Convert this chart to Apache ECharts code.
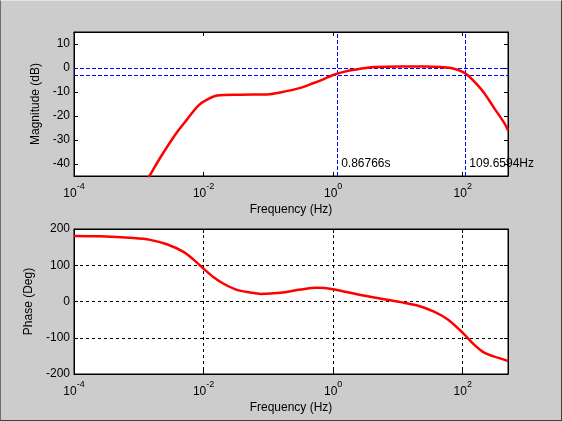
<!DOCTYPE html>
<html>
<head>
<meta charset="utf-8">
<script src="https://cdn.jsdelivr.net/npm/echarts@6/dist/echarts.min.js"></script>
<style>
  html, body { margin: 0; padding: 0; background: #cccccc; }
  #chart { width: 562px; height: 421px; }
  #frame {
    position: absolute; left: 0; top: 0; width: 562px; height: 421px;
    box-sizing: border-box; pointer-events: none;
    border-left: 1px solid #6e6e6e; border-top: 1px solid #e4e4e4;
    border-right: 1px solid #404040; border-bottom: 1px solid #404040;
  }
</style>
</head>
<body>
<div id="chart"></div>
<div id="frame"></div>
<script>
// magnitude response
const magFreq = [0.0012, 0.00146, 0.00214, 0.00365, 0.00553, 0.00837, 0.0113, 0.0162,
  0.0372, 0.0955, 0.153, 0.313, 0.501, 0.718, 1.0, 1.65, 2.63, 4.27, 11.0, 26,
  45.7, 65.5, 88, 113, 150, 214, 306, 437, 500];
const magDb = [-48.5, -45, -37.4, -27.8, -21.5, -15.6, -13.2, -11.5,
  -11.1, -11.0, -10.2, -8.3, -6.25, -4.6, -2.9, -1.25, -0.3, 0.4, 0.67, 0.6,
  0.4, 0.0, -1, -2.5, -5.6, -10.4, -16.7, -22.9, -26];

// phase response
const phaseFreq = [0.0001, 0.00025, 0.00083, 0.0015, 0.00271, 0.0049, 0.007, 0.01,
  0.0143, 0.0204, 0.0327, 0.0525, 0.0759, 0.153, 0.312, 0.565, 1.0, 2.63, 6.87,
  11.0, 20, 36, 58.2, 101, 150, 214, 345, 500];
const phaseDeg = [181, 180, 175, 170, 158, 137, 115.5, 90.6,
  67, 49, 32, 25, 21, 24, 33, 38, 34, 18, 4.8,
  -1.7, -11, -28, -49, -87, -119, -141, -155, -164];

const cutoffs = [1.1525, 109.6594];
const cutoffLabels = ['0.86766s', '109.6594Hz'];
const refLevels = [0, -3];
const labelLevel = -40;

const font = 'Liberation Sans, Arial, sans-serif';

function freqAxis(gridIndex, position, withLabels, withGrid) {
  return {
    type: 'log', logBase: 100, gridIndex: gridIndex, position: position,
    min: 1e-4, max: 500,
    axisLine: { show: true, onZero: false, lineStyle: { color: '#000', width: 1 } },
    axisTick: { show: true, inside: true, length: 4, lineStyle: { color: '#000' } },
    axisLabel: withLabels ? {
      show: true, margin: 6, color: '#000', fontFamily: font, showMaxLabel: false,
      formatter: function (v) {
        const e = Math.round(Math.log10(v));
        return '{b|10}{s|' + e + '}';
      },
      rich: {
        b: { fontSize: 12, fontFamily: font, color: '#000', padding: [6, 0, 0, 0] },
        s: { fontSize: 9, fontFamily: font, color: '#000', padding: [0, 0, 8, 0] }
      }
    } : { show: false },
    splitLine: { show: withGrid, lineStyle: { color: '#000', type: [3, 3], width: 1 } },
    name: withLabels ? 'Frequency (Hz)' : '',
    nameLocation: 'middle', nameGap: 28,
    nameTextStyle: { color: '#000', fontSize: 12, fontFamily: font }
  };
}

function valueAxis(gridIndex, position, opts, withLabels, withGrid, name, nameGap) {
  return Object.assign({
    type: 'value', gridIndex: gridIndex, position: position,
    axisLine: { show: true, onZero: false, lineStyle: { color: '#000', width: 1 } },
    axisTick: { show: true, inside: true, length: 4, lineStyle: { color: '#000' } },
    axisLabel: withLabels ? {
      show: true, margin: 4, color: '#000', fontSize: 12, fontFamily: font
    } : { show: false },
    splitLine: { show: withGrid, lineStyle: { color: '#000', type: [3, 3], width: 1 } },
    name: withLabels ? name : '',
    nameLocation: 'middle', nameGap: nameGap,
    nameTextStyle: { color: '#000', fontSize: 12, fontFamily: font }
  }, opts);
}

const magRange = { min: -45, max: 15, splitNumber: 6 };
const phaseRange = { min: -200, max: 200, interval: 100 };

const chart = echarts.init(document.getElementById('chart'), null, { renderer: 'canvas' });
chart.setOption({
  backgroundColor: '#cccccc',
  animation: false,
  grid: [
    { left: 74, top: 32, width: 434, height: 144, show: true, backgroundColor: '#fff', borderColor: '#000', borderWidth: 1 },
    { left: 74, top: 229, width: 434, height: 145, show: true, backgroundColor: '#fff', borderColor: '#000', borderWidth: 1 }
  ],
  xAxis: [
    freqAxis(0, 'bottom', true, false),
    freqAxis(0, 'top', false, false),
    freqAxis(1, 'bottom', true, true),
    freqAxis(1, 'top', false, false)
  ],
  yAxis: [
    valueAxis(0, 'left', Object.assign({}, magRange, {
      axisLabel: { show: true, margin: 4, color: '#000', fontSize: 12, fontFamily: font, showMinLabel: false, showMaxLabel: false }
    }), true, false, 'Magnitude (dB)', 31),
    valueAxis(0, 'right', magRange, false, false, '', 0),
    valueAxis(1, 'left', phaseRange, true, true, 'Phase (Deg)', 38),
    valueAxis(1, 'right', phaseRange, false, false, '', 0)
  ],
  series: [
    {
      type: 'line', xAxisIndex: 0, yAxisIndex: 0,
      data: magFreq.map((f, i) => [f, magDb[i]]),
      showSymbol: false, smooth: 0.3, clip: true,
      lineStyle: { color: '#ff0000', width: 2.5 },
      z: 5,
      markLine: {
        silent: true, symbol: 'none', animation: false,
        label: { show: false },
        lineStyle: { color: '#0000ff', type: [4, 2], width: 1 },
        data: cutoffs.map(v => ({ xAxis: v })).concat(refLevels.map(v => ({ yAxis: v })))
      },
      markPoint: {
        silent: true, symbol: 'circle', symbolSize: 0, animation: false,
        label: {
          show: true, position: 'right', distance: 4, formatter: '{b}',
          color: '#000', fontSize: 12, fontFamily: font
        },
        data: cutoffs.map((v, i) => ({ name: cutoffLabels[i], coord: [v, labelLevel] }))
      }
    },
    {
      type: 'line', xAxisIndex: 2, yAxisIndex: 2,
      data: phaseFreq.map((f, i) => [f, phaseDeg[i]]),
      showSymbol: false, smooth: 0.3, clip: true,
      lineStyle: { color: '#ff0000', width: 2.5 },
      z: 5
    }
  ]
});
</script>
</body>
</html>
